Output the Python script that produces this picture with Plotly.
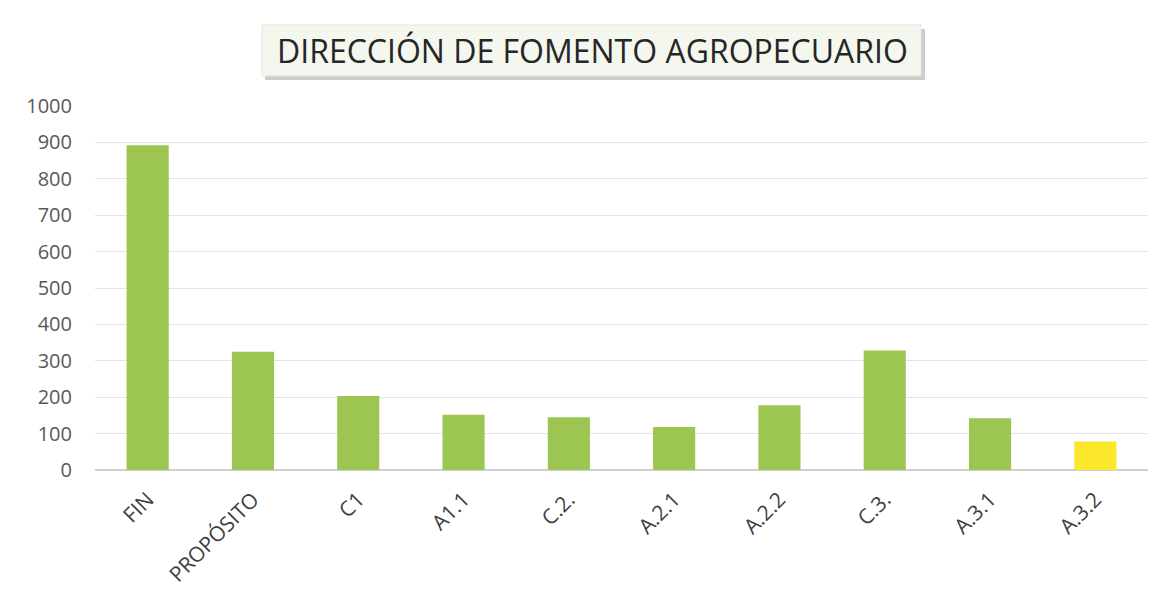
import plotly.graph_objects as go

# categories and values
categories = ["FIN", "PROPÓSITO", "C1", "A1.1", "C.2.", "A.2.1", "A.2.2", "C.3.", "A.3.1", "A.3.2"]
values = [892, 325, 203, 152, 145, 118, 178, 328, 142, 78]
bar_colors = ["#9cc552"] * 9 + ["#fbe82a"]

# the page body keeps its default 8px margin, so the figure is a bit smaller
OFF = 8
W, H = 1171 - OFF, 603 - OFF
L, T = 95 - OFF, 106 - OFF
plot_w, plot_h = 1053, 364
R, B = W - L - plot_w, H - T - plot_h


def px_x(x):
    # page pixel -> paper coordinate
    return (x - OFF - L) / plot_w


def px_y(y):
    return (T + plot_h - (y - OFF)) / plot_h


fig = go.Figure()

fig.add_trace(go.Bar(
    x=categories,
    y=values,
    marker=dict(color=bar_colors, line=dict(width=0)),
    width=0.4,
    hoverinfo="x+y",
))

# title box with a soft drop shadow
fig.add_shape(type="rect", xref="paper", yref="paper",
              x0=px_x(265), x1=px_x(925), y0=px_y(80), y1=px_y(29),
              fillcolor="#9a9a9a", line=dict(width=0), opacity=0.5)
fig.add_shape(type="rect", xref="paper", yref="paper",
              x0=px_x(262), x1=px_x(921), y0=px_y(76), y1=px_y(25),
              fillcolor="#f4f7ee", line=dict(color="#e4e7de", width=1))

fig.add_annotation(
    text="DIRECCIÓN DE FOMENTO AGROPECUARIO",
    xref="paper", yref="paper", x=px_x(592), y=px_y(50),
    xanchor="center", yanchor="middle",
    showarrow=False,
    font=dict(family="Open Sans, Lato, sans-serif", size=32, color="#262626"),
)

fig.update_layout(
    width=W, height=H,
    margin=dict(l=L, r=R, t=T, b=B),
    paper_bgcolor="white",
    plot_bgcolor="white",
    showlegend=False,
    font=dict(family="Open Sans, Lato, sans-serif", color="#595959"),
    bargap=0.6,
)

fig.update_yaxes(
    range=[0, 1000], dtick=100,
    showgrid=True, gridcolor="#e3e3e3", gridwidth=1,
    zeroline=True, zerolinecolor="#d0d0d0",
    tickfont=dict(size=20, color="#595959"),
    ticks="", showline=False,
    ticklabelstandoff=22,
    automargin=False,
)
fig.update_xaxes(
    tickangle=-45,
    tickfont=dict(size=21, color="#404040"),
    showline=True, linecolor="#d0d0d0",
    ticks="",
    ticklabelstandoff=8,
    automargin=False,
)

fig.write_html("out.html")
